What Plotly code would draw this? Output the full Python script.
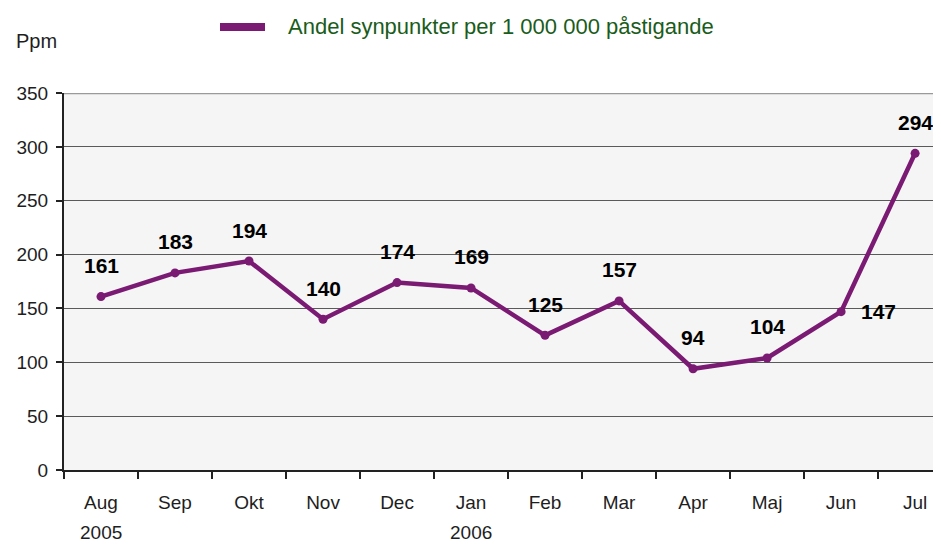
import plotly.graph_objects as go

months = ["Aug", "Sep", "Okt", "Nov", "Dec", "Jan", "Feb", "Mar", "Apr", "Maj", "Jun", "Jul"]
years = ["2005", "", "", "", "", "2006", "", "", "", "", "", ""]
values = [161, 183, 194, 140, 174, 169, 125, 157, 94, 104, 147, 294]
series_name = "Andel synpunkter per 1 000 000 påstigande"
y_ticks = [0, 50, 100, 150, 200, 250, 300, 350]

PURPLE = "#7a1a73"
FONT = "Liberation Sans Narrow, Arial Narrow, Liberation Sans, Arial, sans-serif"
BOLD = "Liberation Sans, Arial, sans-serif"
TXT = "#1e1e1e"

# screen->paper helpers (page body has 8px offset)
def px(sx):
    return (sx - 64) / 877

def py(sy):
    return 1 + (93 - sy) / 377

fig = go.Figure()
fig.add_trace(go.Scatter(
    x=months, y=values, mode="lines+markers", name=series_name,
    line=dict(color=PURPLE, width=4.5),
    marker=dict(color=PURPLE, size=9),
    showlegend=False, hoverinfo="x+y",
))

for i, (m, v) in enumerate(zip(months, values)):
    if i == 10:
        fig.add_annotation(x=m, y=v, text=f"<b>{v}</b>", showarrow=False,
                           xshift=37, yshift=0,
                           font=dict(family=BOLD, size=21, color="black"))
    else:
        fig.add_annotation(x=m, y=v, text=f"<b>{v}</b>", showarrow=False,
                           yshift=31,
                           font=dict(family=BOLD, size=21, color="black"))

for m, yr in zip(months, years):
    if yr:
        fig.add_annotation(x=m, yref="paper", y=py(532), text=yr, showarrow=False,
                           yanchor="middle", font=dict(family=FONT, size=19, color=TXT))

# top border line at 350
fig.add_shape(type="line", xref="paper", yref="y", x0=0, x1=1, y0=350, y1=350,
              line=dict(color="#9a9a9a", width=2.5), layer="above")

# legend (manual)
fig.add_shape(type="line", xref="paper", yref="paper",
              x0=px(220), x1=px(265), y0=py(27), y1=py(27),
              line=dict(color=PURPLE, width=8))
fig.add_annotation(xref="paper", yref="paper", x=px(286), y=py(27),
                   xanchor="left", yanchor="middle", showarrow=False,
                   text=series_name, font=dict(family=FONT, size=22, color="#1a5c1a"))
fig.add_annotation(xref="paper", yref="paper", x=px(14), y=py(41),
                   xanchor="left", yanchor="middle", showarrow=False,
                   text="Ppm", font=dict(family=FONT, size=20, color=TXT))

fig.update_layout(
    width=933, height=537,
    margin=dict(l=56, r=0, t=85, b=75),
    paper_bgcolor="white", plot_bgcolor="#f5f5f5",
    font=dict(family=FONT, size=19, color=TXT),
)
fig.update_xaxes(
    type="category", range=[-0.5, 11.35], showgrid=False,
    tickson="boundaries", ticks="outside", ticklen=7, tickcolor="#222", tickwidth=1.5,
    showline=True, linecolor="#222", linewidth=2, ticklabelstandoff=14,
    tickfont=dict(family=FONT, size=19, color=TXT),
)
fig.update_yaxes(
    range=[0, 350], tickvals=y_ticks, showgrid=True, gridcolor="#5a5a5a", gridwidth=1.2,
    ticks="outside", ticklen=6, tickcolor="#222", tickwidth=1.5,
    showline=True, linecolor="#222", linewidth=2, zeroline=False, ticklabelstandoff=4,
    tickfont=dict(family=FONT, size=19, color=TXT),
)

fig.write_html("out.html")
